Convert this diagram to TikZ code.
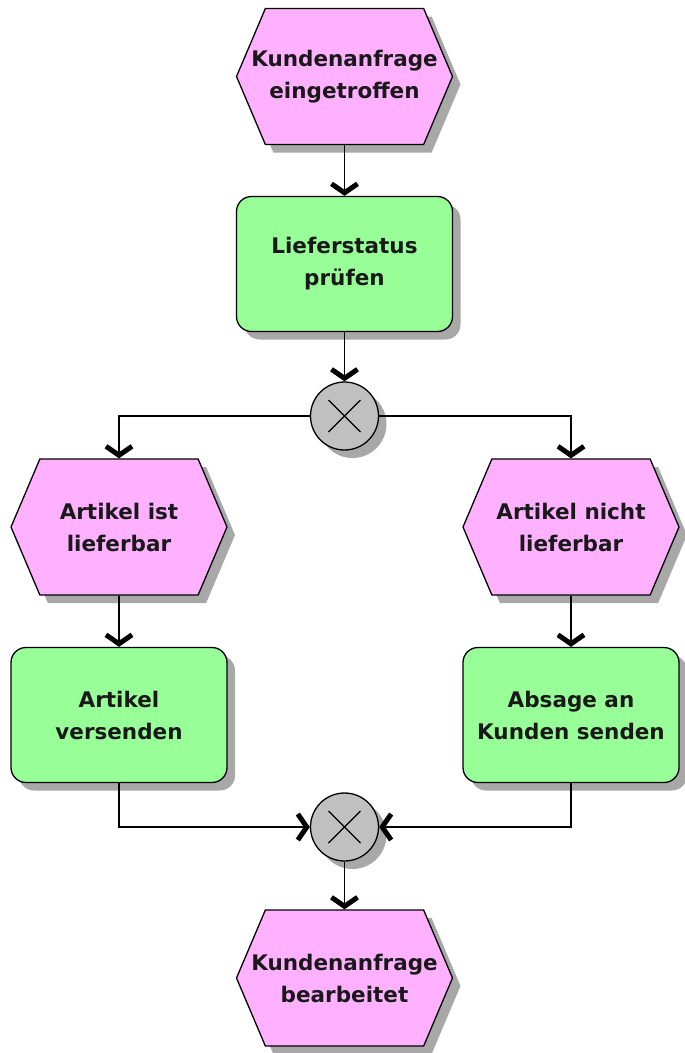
\documentclass[tikz,border=0pt]{standalone}
\usepackage{fontspec}
\setmainfont{DejaVu Sans}
\usetikzlibrary{shapes.symbols,shadows,arrows.meta}
\definecolor{evpink}{HTML}{FFB0FF}
\definecolor{fngreen}{HTML}{98FF98}
\definecolor{xorgray}{HTML}{C0C0C0}
\definecolor{shadowgray}{HTML}{A8A8A8}
\tikzset{
  shd/.style={drop shadow={shadow xshift=8pt, shadow yshift=-8pt, fill=shadowgray, opacity=1}},
  lbl/.style={font=\bfseries\fontsize{21.5}{32}\selectfont, text=black!90, align=center},
  event/.style={shape=signal, signal to=east and west, signal pointer angle=134,
    draw, line width=1.3pt, fill=evpink, minimum width=216pt, minimum height=136pt,
    inner xsep=-40pt, inner ysep=0pt, shd, lbl},
  func/.style={rectangle, rounded corners=15pt, draw, line width=1.3pt, fill=fngreen,
    minimum width=216pt, minimum height=135pt, inner sep=0pt, shd, lbl},
  xor/.style={circle, draw, line width=1.3pt, fill=xorgray, minimum size=68pt, inner sep=0pt, shd},
  conn/.style={line width=1.3pt, -{Straight Barb[length=9pt, width=26pt, line width=5pt]}},
}
\begin{document}
\begin{tikzpicture}[x=1pt,y=-1pt]
\useasboundingbox (0,0) rectangle (685,1053);
\node[event] (e1) at (344.5,76.5) {Kundenanfrage\\eingetroffen};
\node[func] (f1) at (344.5,264) {Lieferstatus\\prüfen};
\node[xor] (x1) at (344.5,416) {};
\draw[line width=1.3pt] ([shift={(-16,-16)}]x1.center) -- ([shift={(16,16)}]x1.center)
  ([shift={(-16,16)}]x1.center) -- ([shift={(16,-16)}]x1.center);
\node[event] (e2) at (119,527) {Artikel ist\\lieferbar};
\node[event] (e3) at (571,527) {Artikel nicht\\lieferbar};
\node[func] (f2) at (119,715) {Artikel\\versenden};
\node[func] (f3) at (571,715) {Absage an\\Kunden senden};
\node[xor] (x2) at (344.5,827) {};
\draw[line width=1.3pt] ([shift={(-16,-16)}]x2.center) -- ([shift={(16,16)}]x2.center)
  ([shift={(-16,16)}]x2.center) -- ([shift={(16,-16)}]x2.center);
\node[event] (e4) at (344.5,978) {Kundenanfrage\\bearbeitet};
\draw[conn] (e1.south) -- (f1.north);
\draw[conn] (f1.south) -- (x1.north);
\draw[conn] (x1.west) -| (e2.north);
\draw[conn] (x1.east) -| (e3.north);
\draw[conn] (e2.south) -- (f2.north);
\draw[conn] (e3.south) -- (f3.north);
\draw[conn] (f2.south) |- (x2.west);
\draw[conn] (f3.south) |- (x2.east);
\draw[conn] (x2.south) -- (e4.north);
\end{tikzpicture}
\end{document}
